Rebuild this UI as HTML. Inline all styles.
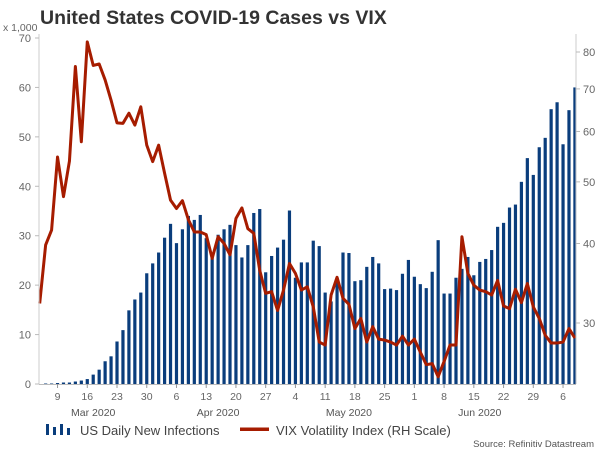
<!DOCTYPE html>
<html><head><meta charset="utf-8"><style>
html,body{margin:0;padding:0;background:#fff;}
svg{display:block;font-family:"Liberation Sans",Arial,sans-serif;}
</style></head><body>
<svg id="chart" width="600" height="450" viewBox="0 0 600 450">
<text x="40" y="24" font-size="19.5" font-weight="bold" fill="#333">United States COVID-19 Cases vs VIX</text>
<text x="3" y="31" font-size="10.5" fill="#666">x 1,000</text>
<g id="grid"></g>
<g id="bars"></g>
<g id="line"></g>
<g id="axes"></g>
<g>
 <g>
  <rect x="46" y="424" width="3" height="11" fill="#0a3d7c"/><rect x="53" y="427" width="3" height="8" fill="#0a3d7c"/><rect x="60" y="424" width="3" height="11" fill="#0a3d7c"/><rect x="67" y="428" width="3" height="7" fill="#0a3d7c"/>
  <text x="80" y="435" font-size="13" fill="#444">US Daily New Infections</text>
 </g>
 <g>
  <rect x="240" y="427.5" width="29" height="3.5" fill="#a61c00"/>
  <text x="276" y="435" font-size="13" fill="#444">VIX Volatility Index (RH Scale)</text>
 </g>
</g>
<text x="594" y="447" font-size="9.5" fill="#555" text-anchor="end">Source: Refinitiv Datastream</text>
</svg>
<script>
const cases = [0,0.1,0.1,0.2,0.3,0.3,0.5,0.7,1.0,1.9,2.9,4.6,5.6,8.6,10.9,14.9,17.1,18.5,22.4,24.4,26.6,29.6,32.4,28.5,31.3,34.0,33.2,34.2,29.5,26.5,30.2,31.3,32.2,28.1,25.6,28.1,34.6,35.4,22.6,25.9,27.6,29.2,35.1,21.5,24.6,24.6,29.0,27.9,18.5,16.7,21.4,26.6,26.5,20.8,21.0,23.7,25.7,24.4,19.2,19.3,19.0,22.3,25.1,21.7,20.2,19.4,22.7,29.1,18.3,18.3,21.5,23.3,25.7,22.0,24.7,25.3,27.1,31.8,32.6,35.7,36.3,40.9,45.7,42.3,47.9,49.8,55.6,57.0,48.5,55.4,60.0];
const vix = [32.2,39.8,42.0,54.7,47.4,53.9,75.9,57.8,83.0,76.2,76.6,72.3,67.2,61.9,61.8,64.1,61.4,65.6,57.1,53.8,57.1,51.6,46.8,45.4,46.7,43.6,41.7,41.7,41.3,37.9,41.0,40.0,38.4,43.8,45.5,42.2,41.5,36.3,33.4,33.6,31.4,33.8,37.2,35.9,33.8,34.2,31.8,28.0,27.7,33.2,35.4,32.8,32.1,29.4,30.5,28.0,29.6,28.3,28.2,28.0,27.7,28.6,27.7,28.3,27.0,25.8,25.9,24.7,26.1,27.7,27.7,41.0,35.9,34.4,33.8,33.6,33.2,35.0,31.9,31.6,33.9,32.3,34.6,31.8,30.5,28.7,27.9,27.9,28.0,29.4,28.4];
const leftTicks = [0,10,20,30,40,50,60,70];
const rightTicks = [30,40,50,60,70,80];
const dayLabels = ["9","16","23","30","6","13","20","27","4","11","18","25","1","8","15","22","29","6"];
const dayIndex = [3,8,13,18,23,28,33,38,43,48,53,58,63,68,73,78,83,88];
const monthLabels = ["Mar 2020","Apr 2020","May 2020","Jun 2020"];
const monthCenters = [9,30,52,74];

const NS="http://www.w3.org/2000/svg";
const X0=39.7, DX=5.947, YB=384, YT=38;
const xs=i=>X0+i*DX;
const yl=v=>YB-v*(YB-YT)/70;
const yr=v=>323-Math.log(v/30)*276.3;
function mk(tag,attrs,parent){const e=document.createElementNS(NS,tag);for(const k in attrs)e.setAttribute(k,attrs[k]);parent.appendChild(e);return e;}
const bars=document.getElementById('bars'),line=document.getElementById('line'),axes=document.getElementById('axes');

cases.forEach((v,i)=>{
 const h=YB-yl(v);
 const r=mk('rect',{x:(xs(i)-1.6).toFixed(2),y:yl(v).toFixed(2),width:3.2,height:Math.max(h,0.4).toFixed(2),fill:'#0a3d7c'},bars);
 
 
});
const pts=vix.map((v,i)=>xs(i).toFixed(2)+','+yr(v).toFixed(2)).join(' ');
const pl=mk('polyline',{points:pts,fill:'none',stroke:'#a61c00','stroke-width':3,'stroke-linejoin':'round'},line);



const la=mk('line',{x1:39,y1:YT-4,x2:39,y2:YB,stroke:'#ccc','stroke-width':1},axes);


const ra=mk('line',{x1:576,y1:YT-4,x2:576,y2:YB,stroke:'#ccc','stroke-width':1},axes);


const ba=mk('line',{x1:39,y1:YB+0.5,x2:576,y2:YB+0.5,stroke:'#bbb','stroke-width':1},axes);



leftTicks.forEach(v=>{
 mk('line',{x1:35,y1:yl(v),x2:39,y2:yl(v),stroke:'#bbb'},axes);
 const t=mk('text',{x:31,y:yl(v)+4,'font-size':11,fill:'#666','text-anchor':'end'},axes);
 t.textContent=v;
 
 
});
rightTicks.forEach(v=>{
 mk('line',{x1:576,y1:yr(v),x2:580,y2:yr(v),stroke:'#bbb'},axes);
 const t=mk('text',{x:583,y:yr(v)+4,'font-size':11,fill:'#666'},axes);
 t.textContent=v;
 
 
});
dayLabels.forEach((d,k)=>{
 const x=xs(dayIndex[k]);
 mk('line',{x1:x,y1:YB,x2:x,y2:YB+4,stroke:'#999'},axes);
 const t=mk('text',{x:x,y:400,'font-size':10.5,fill:'#666','text-anchor':'middle'},axes);
 t.textContent=d;
 
 
});
monthLabels.forEach((m,k)=>{
 const t=mk('text',{x:xs(monthCenters[k]),y:416,'font-size':10.5,fill:'#555','text-anchor':'middle'},axes);
 t.textContent=m;
 
 
});
</script>
</body></html>
